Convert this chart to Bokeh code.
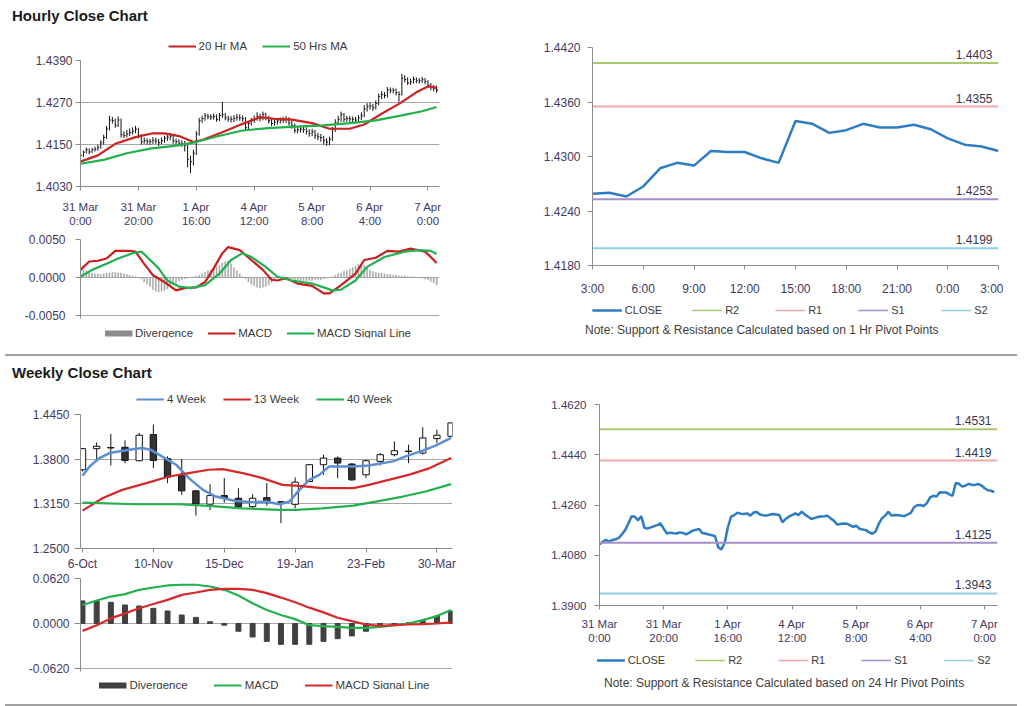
from bokeh.plotting import figure
from bokeh.models import (Legend, LegendItem, FixedTicker, Div, Range1d, Spacer,
                          NumeralTickFormatter)
from bokeh.layouts import column, row
from bokeh.embed import file_html
from bokeh.resources import INLINE
from bokeh.core.properties import value

FONT = "Liberation Sans"
LBL = "#45395f"
AX = "#8c8c8c"
GRID = "#a6a6a6"

# ---------------- hourly data (31 Mar 0:00 .. 7 Apr 3:00) ----------------
hour_close = [
    1.4119, 1.4128, 1.4135, 1.4129, 1.4135, 1.4137, 1.4142, 1.4155, 1.4170, 1.4194,
    1.4220, 1.4218, 1.4205, 1.4220, 1.4178, 1.4176, 1.4180, 1.4184, 1.4188, 1.4194,
    1.4175, 1.4158, 1.4161, 1.4159, 1.4158, 1.4162, 1.4160, 1.4155, 1.4161, 1.4168,
    1.4171, 1.4174, 1.4160, 1.4158, 1.4154, 1.4152, 1.4148, 1.4108, 1.4101, 1.4125,
    1.4180, 1.4218, 1.4224, 1.4232, 1.4229, 1.4228, 1.4230, 1.4222, 1.4233, 1.4235,
    1.4226, 1.4223, 1.4222, 1.4225, 1.4228, 1.4226, 1.4224, 1.4198, 1.4210, 1.4218,
    1.4224, 1.4230, 1.4224, 1.4236, 1.4226, 1.4218, 1.4210, 1.4214, 1.4217, 1.4219,
    1.4220, 1.4222, 1.4212, 1.4204, 1.4190, 1.4192, 1.4194, 1.4193, 1.4188, 1.4182,
    1.4186, 1.4175, 1.4172, 1.4170, 1.4162, 1.4157, 1.4165, 1.4192, 1.4212, 1.4222,
    1.4236, 1.4222, 1.4224, 1.4223, 1.4222, 1.4220, 1.4226, 1.4232, 1.4252, 1.4259,
    1.4260, 1.4256, 1.4267, 1.4287, 1.4293, 1.4290, 1.4306, 1.4305, 1.4305, 1.4298,
    1.4293, 1.4339, 1.4336, 1.4326, 1.4329, 1.4336, 1.4332, 1.4332, 1.4335, 1.4330,
    1.4320, 1.4313, 1.4311, 1.4306]
hour_high = [
    1.4126, 1.4133, 1.4141, 1.4139, 1.4140, 1.4144, 1.4149, 1.4162, 1.4178, 1.4203,
    1.4232, 1.4229, 1.4224, 1.4230, 1.4224, 1.4188, 1.4192, 1.4196, 1.4199, 1.4203,
    1.4198, 1.4180, 1.4170, 1.4168, 1.4166, 1.4171, 1.4169, 1.4166, 1.4170, 1.4175,
    1.4180, 1.4183, 1.4178, 1.4167, 1.4165, 1.4162, 1.4160, 1.4150, 1.4118, 1.4135,
    1.4188, 1.4226, 1.4232, 1.4240, 1.4238, 1.4236, 1.4238, 1.4236, 1.4240, 1.4272,
    1.4240, 1.4232, 1.4231, 1.4234, 1.4237, 1.4236, 1.4233, 1.4228, 1.4217, 1.4226,
    1.4233, 1.4242, 1.4238, 1.4244, 1.4241, 1.4232, 1.4224, 1.4222, 1.4225, 1.4227,
    1.4229, 1.4231, 1.4228, 1.4219, 1.4210, 1.4200, 1.4203, 1.4202, 1.4199, 1.4194,
    1.4195, 1.4192, 1.4183, 1.4180, 1.4175, 1.4168, 1.4172, 1.4200, 1.4222, 1.4232,
    1.4244, 1.4240, 1.4232, 1.4231, 1.4230, 1.4229, 1.4234, 1.4242, 1.4262, 1.4268,
    1.4270, 1.4266, 1.4276, 1.4296, 1.4302, 1.4300, 1.4314, 1.4313, 1.4312, 1.4310,
    1.4302, 1.4352, 1.4348, 1.4342, 1.4338, 1.4344, 1.4342, 1.4340, 1.4343, 1.4340,
    1.4334, 1.4326, 1.4320, 1.4318]
hour_low = [
    1.4108, 1.4114, 1.4124, 1.4122, 1.4125, 1.4130, 1.4132, 1.4138, 1.4150, 1.4166,
    1.4190, 1.4210, 1.4198, 1.4200, 1.4170, 1.4168, 1.4170, 1.4174, 1.4178, 1.4182,
    1.4168, 1.4150, 1.4152, 1.4150, 1.4149, 1.4152, 1.4152, 1.4146, 1.4150, 1.4155,
    1.4160, 1.4163, 1.4152, 1.4148, 1.4145, 1.4143, 1.4130, 1.4085, 1.4068, 1.4090,
    1.4120, 1.4175, 1.4212, 1.4218, 1.4222, 1.4220, 1.4221, 1.4215, 1.4217, 1.4226,
    1.4219, 1.4215, 1.4213, 1.4214, 1.4218, 1.4218, 1.4215, 1.4190, 1.4192, 1.4204,
    1.4212, 1.4218, 1.4216, 1.4219, 1.4219, 1.4210, 1.4202, 1.4204, 1.4207, 1.4210,
    1.4211, 1.4212, 1.4204, 1.4195, 1.4182, 1.4182, 1.4184, 1.4183, 1.4178, 1.4172,
    1.4174, 1.4166, 1.4162, 1.4158, 1.4150, 1.4146, 1.4148, 1.4160, 1.4186, 1.4206,
    1.4215, 1.4214, 1.4215, 1.4214, 1.4213, 1.4211, 1.4214, 1.4220, 1.4228, 1.4244,
    1.4250, 1.4246, 1.4250, 1.4262, 1.4280, 1.4282, 1.4284, 1.4296, 1.4296, 1.4290,
    1.4272, 1.4290, 1.4328, 1.4320, 1.4320, 1.4324, 1.4325, 1.4324, 1.4326, 1.4322,
    1.4313, 1.4305, 1.4302, 1.4298]
hour_idx = list(range(len(hour_close)))

ma20_x = [0, 6, 12, 19, 25, 29, 34, 39, 42, 49, 56, 62, 67, 73, 80, 86, 93, 98, 104, 110, 116, 120, 123]
ma20_y = [1.4101, 1.4119, 1.4152, 1.4171, 1.4182, 1.4182, 1.4174, 1.4157, 1.4163, 1.4185, 1.4209,
          1.4228, 1.4223, 1.4221, 1.4211, 1.4195, 1.4195, 1.4207, 1.4238, 1.4266, 1.4299, 1.4316, 1.4312]
ma50_x = [0, 8, 16, 24, 33, 40, 47, 56, 65, 74, 83, 93, 102, 111, 118, 123]
ma50_y = [1.4095, 1.4106, 1.4125, 1.4138, 1.4147, 1.4157, 1.4173, 1.4190, 1.4197, 1.4201, 1.4204,
          1.4211, 1.4219, 1.4233, 1.4245, 1.4257]

macd_x = [0, 3, 6, 9, 12, 17, 19, 22, 25, 29, 33, 36, 40, 43, 46, 49, 51, 55, 59, 63,
          66, 68, 71, 75, 80, 84, 86, 90, 95, 98, 102, 106, 110, 114, 119, 121, 123]
macd_y = [0.0010, 0.0021, 0.0022, 0.0025, 0.0035, 0.0035, 0.0034, 0.0018, 0.0003, -0.0006,
          -0.0017, -0.0014, -0.0013, -0.0006, 0.0012, 0.0032, 0.0040, 0.0036, 0.0023, 0.0010,
          -0.0003, -0.0004, -0.0001, -0.0008, -0.0011, -0.0021, -0.0021, -0.0010, 0.0005, 0.0023,
          0.0026, 0.0035, 0.0034, 0.0038, 0.0034, 0.0027, 0.0019]
sig_x = [0, 4, 9, 13, 18, 21, 23, 27, 30, 34, 38, 43, 48, 52, 56, 59, 64, 68, 73, 80,
         87, 90, 95, 99, 105, 112, 117, 121, 123]
sig_y = [0.0001, 0.0010, 0.0018, 0.0025, 0.0032, 0.0034, 0.0027, 0.0012, -0.0004, -0.0012,
         -0.0014, -0.0010, 0.0005, 0.0023, 0.0032, 0.0027, 0.0014, 0.0001, -0.0004, -0.0008,
         -0.0017, -0.0016, -0.0004, 0.0014, 0.0027, 0.0034, 0.0036, 0.0035, 0.0031]
# divergence in pips (1 pip = 0.0001)
hour_div_pips = [8, 10, 9, 8, 6, 5, 5, 4, 5, 6, 6, 7, 7, 6, 6, 5, 4, 3, 2, 1,
                 0, -2, -6, -9, -12, -16, -18, -19, -18, -17, -15, -12, -10, -7, -5,
                 -3, -2, -1, 0, 1, 2, 3, 5, 7, 9, 10, 12, 14, 16, 19, 21, 22,
                 18, 13, 9, 5, 1, -2, -6, -9, -11, -13, -14, -13, -12, -10, -7, -4,
                 -1, 0, 1, 0, -1, -2, -3, -3, -4, -4, -5, -4, -4, -3, -3,
                 -3, -2, -1, 0, 1, 3, 5, 6, 8, 9, 11, 13, 15, 17, 18, 16,
                 13, 10, 8, 7, 6, 6, 5, 4, 4, 3, 3, 2, 2, 2, 1, 1, 1,
                 0, 0, -1, -2, -3, -5, -7, -10]

hr_tick_pos = [0, 20, 40, 60, 80, 100, 120]
hr_tick_labels = ["31 Mar\n0:00", "31 Mar\n20:00", "1 Apr\n16:00", "4 Apr\n12:00",
                  "5 Apr\n8:00", "6 Apr\n4:00", "7 Apr\n0:00"]
hr_price_ticks = [1.4030, 1.4150, 1.4270, 1.4390]
hr_macd_ticks = [-0.0050, 0.0, 0.0050]

# last 25 hours for the 1-hour pivot chart
rt_close = hour_close[99:]
rt_tick_pos = [0, 3, 6, 9, 12, 15, 18, 21, 24]
rt_tick_labels = ["3:00", "6:00", "9:00", "12:00", "15:00", "18:00", "21:00", "0:00", "3:00"]
rt_y_ticks = [1.4180, 1.4240, 1.4300, 1.4360, 1.4420]
piv_names = ["R2", "R1", "S1", "S2"]
piv1_levels = [1.4403, 1.4355, 1.4253, 1.4199]
piv24_levels = [1.4531, 1.4419, 1.4125, 1.3943]
rb_y_ticks = [1.3900, 1.4080, 1.4260, 1.4440, 1.4620]

# ---------------- weekly data ----------------
wk_open = [1.3646, 1.3953, 1.3970, 1.3972, 1.3777, 1.4158, 1.3807, 1.3558, 1.3339, 1.3145,
           1.3270, 1.3231, 1.3110, 1.3240, 1.3180, 1.3143, 1.3475, 1.3719, 1.3816, 1.3729,
           1.3573, 1.3768, 1.3865, 1.3918, 1.3889, 1.4099, 1.4133]
wk_high = [1.3960, 1.4045, 1.4167, 1.4075, 1.4182, 1.4304, 1.3841, 1.3802, 1.3353, 1.3436,
           1.3524, 1.3377, 1.3290, 1.3450, 1.3190, 1.3534, 1.3730, 1.3865, 1.3841, 1.3743,
           1.3792, 1.3889, 1.4060, 1.4011, 1.4265, 1.4231, 1.4330]
wk_low = [1.3620, 1.3792, 1.3709, 1.3743, 1.3768, 1.3670, 1.3451, 1.3280, 1.2979, 1.3060,
          1.3168, 1.3095, 1.3085, 1.3124, 1.2868, 1.3085, 1.3465, 1.3573, 1.3524, 1.3485,
          1.3524, 1.3709, 1.3841, 1.3743, 1.3865, 1.4036, 1.4120]
wk_close = [1.3953, 1.3987, 1.3963, 1.3782, 1.4148, 1.3782, 1.3538, 1.3339, 1.3145, 1.3270,
            1.3235, 1.3110, 1.3231, 1.3182, 1.3172, 1.3465, 1.3719, 1.3816, 1.3743, 1.3499,
            1.3777, 1.3865, 1.3923, 1.3910, 1.4109, 1.4148, 1.4328]
wk_idx = list(range(len(wk_close)))

wk4_x = [0, 0.5, 1.2, 1.9, 3.3, 4.2, 4.8, 5.6, 6.6, 7.5, 8.5, 9.4, 10.8, 12, 12.9, 13.9, 14.6,
         15.3, 16, 16.7, 17.4, 17.9, 19.1, 20.2, 21.9, 22.8, 24, 24.9, 26]
wk4_y = [1.3560, 1.3694, 1.3816, 1.3889, 1.3938, 1.3963, 1.3938, 1.3841, 1.3719, 1.3524,
         1.3353, 1.3256, 1.3192, 1.3173, 1.3183, 1.3144, 1.3183, 1.3353, 1.3499, 1.3572,
         1.3694, 1.3694, 1.3694, 1.3709, 1.3768, 1.3841, 1.3924, 1.3997, 1.4109]
wk13_x = [0, 1.4, 2.8, 4.5, 6.1, 7.5, 8.9, 9.9, 11.3, 12.7, 14.1, 15.3, 16.9, 19.1, 20.2, 21.6, 23, 24.5, 26]
wk13_y = [1.3051, 1.3231, 1.3353, 1.3451, 1.3548, 1.3597, 1.3646, 1.3655, 1.3597, 1.3524,
          1.3426, 1.3412, 1.3378, 1.3378, 1.3426, 1.3499, 1.3572, 1.3670, 1.3816]
wk40_x = [0, 3.8, 6.8, 8.9, 11.3, 13.9, 15.1, 16.9, 19.1, 20.7, 22.6, 24.2, 26]
wk40_y = [1.3168, 1.3144, 1.3144, 1.3119, 1.3085, 1.3061, 1.3061, 1.3085, 1.3124, 1.3183,
          1.3256, 1.3329, 1.3436]

wk_div = [0.0311, 0.0311, 0.0292, 0.0255, 0.0241, 0.0209, 0.0172, 0.0116, 0.0084, 0.0023,
          -0.0023, -0.0107, -0.0186, -0.0246, -0.0288, -0.0288, -0.0288, -0.0246, -0.0209, -0.0172,
          -0.0107, -0.0032, -0.0009, 0.0009, 0.0037, 0.0102, 0.0172]
wk_macd = [0.0255, 0.0316, 0.0371, 0.0404, 0.0464, 0.0496, 0.0524, 0.0534, 0.0534, 0.0510,
           0.0464, 0.0385, 0.0278, 0.0186, 0.0116, 0.0060, -0.0023, -0.0037, -0.0046, -0.0060,
           -0.0060, -0.0046, -0.0023, 0.0000, 0.0046, 0.0102, 0.0186]
wk_sig = [-0.0102, -0.0023, 0.0070, 0.0139, 0.0209, 0.0269, 0.0325, 0.0394, 0.0427, 0.0464,
          0.0478, 0.0478, 0.0464, 0.0418, 0.0357, 0.0292, 0.0218, 0.0153, 0.0079, 0.0032,
          -0.0014, -0.0032, -0.0023, -0.0014, -0.0009, 0.0000, 0.0014]
wk_tick_pos = [0, 5, 10, 15, 20, 25]
wk_tick_labels = ["6-Oct", "10-Nov", "15-Dec", "19-Jan", "23-Feb", "30-Mar"]
wk_price_ticks = [1.2500, 1.3150, 1.3800, 1.4450]
wk_macd_ticks = [-0.0620, 0.0, 0.0620]


# ---------------- helpers ----------------
def base_fig(fw, fh, xr, yr):
    p = figure(frame_width=fw, frame_height=fh, x_range=Range1d(*xr), y_range=Range1d(*yr),
               output_backend="svg", toolbar_location=None)
    p.title.visible = False
    p.outline_line_color = None
    p.xgrid.grid_line_color = None
    p.ygrid.grid_line_color = None
    for ax in p.axis:
        ax.axis_line_color = AX
        ax.major_tick_line_color = AX
        ax.minor_tick_line_color = None
        ax.minor_tick_out = 0
        ax.minor_tick_in = 0
        ax.major_tick_in = 0
        ax.major_tick_out = 4
        ax.major_label_text_font = FONT
        ax.major_label_text_font_size = "11.5px"
        ax.major_label_text_color = LBL
    return p


def y_ticks(p, ticks, grid=False, standoff=4, tick_out=4, size="12px"):
    p.yaxis.ticker = FixedTicker(ticks=ticks)
    p.yaxis.formatter = NumeralTickFormatter(format="0.0000")
    p.yaxis.major_label_standoff = standoff
    p.yaxis.major_tick_out = tick_out
    p.yaxis.major_label_text_font_size = size
    if grid:
        p.ygrid.grid_line_color = GRID
        p.ygrid.grid_line_width = 1


def x_ticks(p, pos, labels, standoff=6, size="11.5px"):
    p.xaxis.ticker = FixedTicker(ticks=pos)
    p.xaxis.major_label_overrides = {k: v for k, v in zip(pos, labels)}
    p.xaxis.major_label_standoff = standoff
    p.xaxis.major_label_text_font_size = size


def legend_strip(fw, fh, entries, spacing, glyph_w=28, size="11.5px"):
    """A small axis-free figure whose frame holds a horizontal legend.
    Its key renderers sit outside the strip's ranges, so only their legend glyphs show."""
    s = base_fig(fw, fh, (0, 1), (0, 1))
    s.xaxis.visible = False
    s.yaxis.visible = False
    items = []
    for label, color, width in entries:
        r = s.line(x=[-3, -2], y=[-3, -3], line_color=color, line_width=width)
        items.append(LegendItem(label=label, renderers=[r]))
    s.add_layout(Legend(items=items, orientation="horizontal", location="center",
                        label_text_font=FONT, label_text_font_size=size,
                        label_text_color="#3a3a3a", glyph_width=glyph_w, glyph_height=12,
                        label_height=12, label_standoff=3, spacing=spacing, padding=0, margin=0,
                        border_line_color=None, background_fill_alpha=0))
    return s


# ---------------- hourly price ----------------
C_MA20, C_MA50 = "#cc2222", "#22b04b"
p1 = base_fig(359, 126, (0, 124), (1.4030, 1.4390))
y_ticks(p1, hr_price_ticks, grid=True, standoff=3, tick_out=5)
x_ticks(p1, hr_tick_pos, hr_tick_labels, standoff=10)
p1.segment(x0=hour_idx, y0=hour_low, x1=hour_idx, y1=hour_high, line_color="#111111", line_width=1)
p1.segment(x0=hour_idx, y0=hour_close, x1=[i + 0.5 for i in hour_idx], y1=hour_close,
           line_color="#111111", line_width=1)
p1.line(ma20_x, ma20_y, line_color=C_MA20, line_width=2.2)
p1.line(ma50_x, ma50_y, line_color=C_MA50, line_width=2.2)
L1 = legend_strip(359, 8, [("20 Hr MA", C_MA20, 2), ("50 Hrs MA", C_MA50, 2)], 15)

# ---------------- hourly MACD ----------------
C_HDIV, C_HMACD, C_HSIG = "#a6a6a6", "#c81e1e", "#1fb04f"
# a little headroom under -0.0050 keeps its tick label inside the canvas
p2 = base_fig(359, 79, (0, 124), (-0.0054, 0.0050))
y_ticks(p2, hr_macd_ticks, grid=True, standoff=10, tick_out=5)
p2.xaxis.visible = False
p2.vbar(x=hour_idx, top=[d * 0.0001 for d in hour_div_pips], bottom=0, width=0.35,
        fill_color=C_HDIV, line_color=C_HDIV, line_width=0.5)
p2.line(macd_x, macd_y, line_color=C_HMACD, line_width=2.2)
p2.line(sig_x, sig_y, line_color=C_HSIG, line_width=2.2)
L2 = legend_strip(359, 10, [("Divergence", "#8c8c8c", 6), ("MACD", C_HMACD, 2),
                            ("MACD Signal Line", C_HSIG, 2)], 14)

# ---------------- pivot charts ----------------
PIV_COLORS = ["#a9c96c", "#f0a8a8", "#a58ec9", "#8fd0e2"]
C_CLOSE = "#2e7dc4"


def pivot_chart(p, xs, closes, levels, x_end):
    p.line(xs, closes, line_color=C_CLOSE, line_width=2.5)
    for lvl, col in zip(levels, PIV_COLORS):
        p.line([0, x_end], [lvl, lvl], line_color=col, line_width=2)
    p.text(x=[x_end] * len(levels), y=levels, text=["%.4f" % v for v in levels],
           text_align="right", text_baseline="bottom", x_offset=-6, y_offset=-4,
           text_font=value(FONT), text_font_size="12px", text_color="#3a3550")


piv_entries = [("CLOSE", C_CLOSE, 2.5)] + [(n, c, 1.5) for n, c in zip(piv_names, PIV_COLORS)]

p3 = base_fig(406, 218, (0, 24), (1.4180, 1.4420))
y_ticks(p3, rt_y_ticks, standoff=7, tick_out=5)
x_ticks(p3, rt_tick_pos, rt_tick_labels, standoff=12, size="12px")
pivot_chart(p3, list(range(len(rt_close))), rt_close, piv1_levels, 24)
L3 = legend_strip(406, 14, piv_entries, 30, glyph_w=30, size="11px")

# ---------------- weekly candles ----------------
C_W4, C_W13, C_W40 = "#5b8fd4", "#d42a2a", "#22b14c"
p4 = base_fig(372, 134, (-0.14, 26.1), (1.2500, 1.4450))
y_ticks(p4, wk_price_ticks, grid=True, standoff=5, tick_out=6)
x_ticks(p4, wk_tick_pos, wk_tick_labels, standoff=4, size="12px")
p4.segment(x0=wk_idx, y0=wk_low, x1=wk_idx, y1=wk_high, line_color="#111111", line_width=1)
p4.vbar(x=wk_idx, width=0.45,
        top=[max(o, c) for o, c in zip(wk_open, wk_close)],
        bottom=[min(o, c) for o, c in zip(wk_open, wk_close)],
        fill_color=["white" if c >= o else "#333333" for o, c in zip(wk_open, wk_close)],
        line_color="#111111", line_width=1)
p4.line(wk4_x, wk4_y, line_color=C_W4, line_width=2.5)
p4.line(wk13_x, wk13_y, line_color=C_W13, line_width=2.2)
p4.line(wk40_x, wk40_y, line_color=C_W40, line_width=2.2)
L4 = legend_strip(372, 10, [("4 Week", C_W4, 2), ("13 Week", C_W13, 2),
                            ("40 Week", C_W40, 2)], 17)

# ---------------- weekly MACD ----------------
C_WDIV, C_WMACD, C_WSIG = "#404040", "#22b14c", "#d42a2a"
p5 = base_fig(372, 93, (-0.14, 26.1), (-0.0662, 0.0620))
y_ticks(p5, wk_macd_ticks, grid=True, standoff=5, tick_out=6)
p5.xaxis.visible = False
p5.vbar(x=wk_idx, top=wk_div, bottom=0, width=0.35, fill_color=C_WDIV, line_color=C_WDIV)
p5.line(wk_idx, wk_macd, line_color=C_WMACD, line_width=2.2)
p5.line(wk_idx, wk_sig, line_color=C_WSIG, line_width=2.2)
L5 = legend_strip(372, 8, [("Divergence", C_WDIV, 6), ("MACD", C_WMACD, 2),
                           ("MACD Signal Line", C_WSIG, 2)], 26)

# ---------------- 24h pivot chart ----------------
p6 = base_fig(398, 201, (0, 124), (1.3900, 1.4620))
y_ticks(p6, rb_y_ticks, standoff=8, tick_out=5, size="11.5px")
x_ticks(p6, hr_tick_pos, hr_tick_labels, standoff=8, size="11.5px")
pivot_chart(p6, hour_idx, hour_close, piv24_levels, 124)
L6 = legend_strip(398, 18, piv_entries, 30, glyph_w=30, size="11px")

# ---------------- page ----------------
TSTYLE = "font:bold 15px 'Liberation Sans',Arial,sans-serif;color:#1a1a1a;padding-left:12px;"
NSTYLE = "font:12px 'Liberation Sans',Arial,sans-serif;color:#404040;white-space:nowrap;"


def note_div(text, pad, h, lh):
    return Div(text='<div style="%spadding-left:%dpx;line-height:%dpx;">%s</div>' % (NSTYLE, pad, lh, text),
               width=470, height=h, margin=0)


t1 = Div(text='<div style="%sline-height:32px;">Hourly Close Chart</div>' % TSTYLE,
         width=1016, height=32, margin=0)
sep1 = Div(text='<div style="margin-top:11px;margin-left:5px;border-top:2px solid #a0a0a0;width:1012px;"></div>',
           width=1020, height=20, margin=0)
t2 = Div(text='<div style="%sline-height:20px;">Weekly Close Chart</div>' % TSTYLE,
         width=1016, height=22, margin=0)
sep2 = Div(text='<div style="margin-top:8px;margin-left:5px;border-top:2px solid #a0a0a0;width:1012px;"></div>',
           width=1020, height=11, margin=0)

note1 = note_div("Note: Support &amp; Resistance Calculated based on 1 Hr Pivot Points", 45, 14, 4)
note2 = note_div("Note: Support &amp; Resistance Calculated based on 24 Hr Pivot Points", 56, 18, 18)

top_left = column(Spacer(width=10, height=5),
                  row(Spacer(width=73, height=1), L1),
                  row(Spacer(width=32, height=1), p1),
                  Spacer(width=10, height=5),
                  row(Spacer(width=21, height=1), p2),
                  row(Spacer(width=73, height=1), L2))
top_right = column(Spacer(width=10, height=10), p3,
                   row(Spacer(width=45, height=1), L3),
                   note1)
bot_left = column(Spacer(width=10, height=4),
                  row(Spacer(width=73, height=1), L4),
                  row(Spacer(width=29, height=1), p4),
                  row(Spacer(width=25, height=1), p5),
                  row(Spacer(width=73, height=1), L5))
bot_right = column(Spacer(width=10, height=14), p6,
                   row(Spacer(width=44, height=1), L6),
                   note2)

page = column(t1,
              row(top_left, Spacer(width=96, height=1), top_right),
              sep1, t2,
              row(bot_left, Spacer(width=91, height=1), bot_right),
              sep2)

open("out.html", "w").write(file_html(page, INLINE))
